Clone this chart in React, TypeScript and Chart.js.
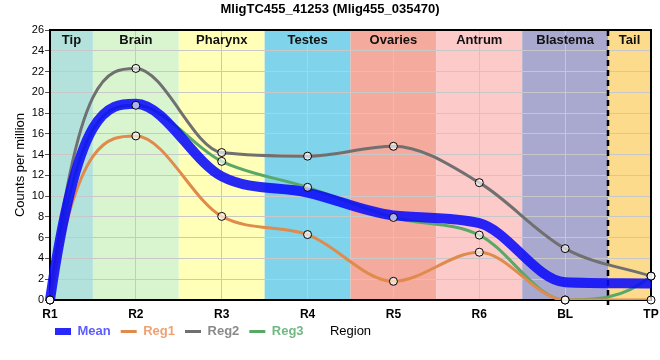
import React, { useEffect, useRef } from 'react';
import { Chart, registerables } from 'chart.js';

Chart.register(...registerables);

const categories = ['R1', 'R2', 'R3', 'R4', 'R5', 'R6', 'BL', 'TP'];
const meanValues = [0, 18.9, 11.9, 10.35, 8.15, 7.4, 1.72, 1.6];
const reg1Values = [0, 15.8, 8.05, 6.3, 1.8, 4.6, 0, 0];
const reg2Values = [0, 22.3, 14.2, 13.85, 14.8, 11.3, 4.95, 2.3];
const reg3Values = [0, 18.75, 13.35, 10.85, 7.95, 6.25, 0, 2.3];

const regionNames = ['Tip', 'Brain', 'Pharynx', 'Testes', 'Ovaries', 'Antrum', 'Blastema', 'Tail'];
const regionColors = ['#b3e2dd', '#d8f5d0', '#ffffb8', '#7fd3ea', '#f4aa9c', '#fdcaca', '#a9a8ce', '#fddb8c'];

const titleText = 'MligTC455_41253 (Mlig455_035470)';
const yTitle = 'Counts per million';
const xTitle = 'Region';
const yMax = 26;
const yStep = 2;

const MEAN_COLOR = 'rgba(10,10,250,0.88)';
const REG1_COLOR = '#e08a4c';
const REG2_COLOR = '#707070';
const REG3_COLOR = '#5aa868';

const FONT = "'Liberation Sans', Arial, sans-serif";

function clamp(v: number, lo: number, hi: number) {
  return Math.max(lo, Math.min(hi, v));
}

// Steeper end tangents next to a flat (extremum) neighbour, as in the reference curves.
const endSlopePlugin = {
  id: 'endSlope',
  beforeDatasetsDraw(chart: any) {
    chart.data.datasets.forEach((ds: any, i: number) => {
      if (ds.showLine === false) return;
      const meta = chart.getDatasetMeta(i);
      const line = meta.dataset;
      if (!line || meta.hidden) return;
      line.updateControlPoints(chart.chartArea, 'x');
      const pts = meta.data;
      const n = pts.length;
      if (n < 3) return;
      {
        const p0 = pts[0];
        const p1 = pts[1];
        const dx = p1.x - p0.x;
        const s = (p1.y - p0.y) / dx;
        if (Math.abs(s) > 1e-9) {
          const m1 = (p1.y - p1.cp1y) / (p1.x - p1.cp1x || 1);
          const k = clamp(3 - (2 * m1) / s, 1, 3);
          p0.cp2x = p0.x + dx / 3;
          p0.cp2y = p0.y + (k * s * dx) / 3;
        }
      }
      {
        const pn = pts[n - 1];
        const pm = pts[n - 2];
        const dx = pn.x - pm.x;
        const s = (pn.y - pm.y) / dx;
        if (Math.abs(s) > 1e-9) {
          const m = (pm.cp2y - pm.y) / (pm.cp2x - pm.x || 1);
          const k = clamp(3 - (2 * m) / s, 1, 3);
          pn.cp1x = pn.x - dx / 3;
          pn.cp1y = pn.y - (k * s * dx) / 3;
        }
      }
    });
  },
};

const bandsPlugin = {
  id: 'bands',
  beforeDraw(chart: any) {
    const { ctx, chartArea } = chart;
    const x = chart.scales.x;
    ctx.save();
    for (let i = 0; i < regionNames.length; i++) {
      const l = Math.max(chartArea.left, x.getPixelForValue(i - 0.5));
      const r = Math.min(chartArea.right, x.getPixelForValue(i + 0.5));
      ctx.fillStyle = regionColors[i];
      ctx.fillRect(l, chartArea.top, r - l, chartArea.bottom - chartArea.top);
    }
    ctx.restore();
  },
  beforeDatasetsDraw(chart: any) {
    const { ctx, chartArea } = chart;
    const x = chart.scales.x;
    ctx.save();
    ctx.font = `bold 13px ${FONT}`;
    ctx.fillStyle = '#111';
    ctx.textAlign = 'center';
    ctx.textBaseline = 'middle';
    for (let i = 0; i < regionNames.length; i++) {
      const l = Math.max(chartArea.left, x.getPixelForValue(i - 0.5));
      const r = Math.min(chartArea.right, x.getPixelForValue(i + 0.5));
      ctx.fillText(regionNames[i], (l + r) / 2, chartArea.top + 10);
    }
    ctx.strokeStyle = '#000';
    ctx.lineWidth = 2;
    ctx.strokeRect(chartArea.left, chartArea.top, chartArea.right - chartArea.left, chartArea.bottom - chartArea.top);
    const dx = Math.round(x.getPixelForValue(categories.length - 1.5));
    ctx.setLineDash([6, 4]);
    ctx.lineWidth = 2.5;
    ctx.beginPath();
    ctx.moveTo(dx, chartArea.top);
    ctx.lineTo(dx, chartArea.bottom + 5);
    ctx.stroke();
    ctx.restore();
  },
  afterLayout(chart: any) {
    if (chart.legend) {
      chart.legend.left -= 5;
      chart.legend.top -= 6;
    }
  },
  afterDraw(chart: any) {
    const { ctx, chartArea } = chart;
    const lg = chart.legend;
    ctx.save();
    ctx.font = `13px ${FONT}`;
    ctx.fillStyle = '#000';
    ctx.textAlign = 'center';
    ctx.textBaseline = 'middle';
    ctx.fillText(xTitle, (chartArea.left + chartArea.right) / 2, lg.top + 16.5);
    ctx.restore();
  },
};

function pointsDataset(label: string, data: number[]) {
  return {
    label,
    data,
    showLine: false,
    pointRadius: 4,
    pointBackgroundColor: 'rgba(255,255,255,0.65)',
    pointBorderColor: '#000',
    pointBorderWidth: 1,
    order: 0,
    clip: false,
  };
}

function lineDataset(label: string, data: number[], color: string, width: number, order: number) {
  return {
    label,
    data,
    borderColor: color,
    backgroundColor: color,
    borderWidth: width,
    pointRadius: 0,
    cubicInterpolationMode: 'monotone',
    fill: false,
    order,
  };
}

export default function App() {
  const ref = useRef<HTMLCanvasElement>(null);
  useEffect(() => {
    Chart.defaults.font.family = FONT;
    const chart = new Chart(ref.current as HTMLCanvasElement, {
      type: 'line',
      data: {
        labels: categories,
        datasets: [
          lineDataset('Mean', meanValues, MEAN_COLOR, 10, 1),
          lineDataset('Reg1', reg1Values, REG1_COLOR, 3, 2),
          lineDataset('Reg2', reg2Values, REG2_COLOR, 3, 2),
          lineDataset('Reg3', reg3Values, REG3_COLOR, 3, 2),
          pointsDataset('p1', reg1Values),
          pointsDataset('p2', reg2Values),
          pointsDataset('p3', reg3Values),
        ] as any,
      },
      options: {
        animation: false,
        responsive: true,
        maintainAspectRatio: false,
        layout: { padding: { left: 0, right: 0, top: 0, bottom: 6 } },
        plugins: {
          tooltip: { enabled: false },
          title: {
            display: true,
            text: titleText,
            color: '#000',
            font: { size: 13, weight: 'bold', family: FONT },
            padding: { top: 1.2, bottom: 13.2 },
          },
          legend: {
            display: true,
            position: 'bottom',
            align: 'start',
            fullSize: false,
            labels: {
              usePointStyle: true,
              pointStyleWidth: 16,
              padding: 10,
              font: { size: 13, weight: 'bold', family: FONT },
              generateLabels: () => [
                { text: 'Mean', strokeStyle: MEAN_COLOR, fillStyle: MEAN_COLOR, lineWidth: 7, pointStyle: 'line', fontColor: '#5c5cff', hidden: false, datasetIndex: 0 },
                { text: 'Reg1', strokeStyle: REG1_COLOR, fillStyle: REG1_COLOR, lineWidth: 3, pointStyle: 'line', fontColor: '#eda274', hidden: false, datasetIndex: 1 },
                { text: 'Reg2', strokeStyle: REG2_COLOR, fillStyle: REG2_COLOR, lineWidth: 3, pointStyle: 'line', fontColor: '#8a8a8a', hidden: false, datasetIndex: 2 },
                { text: 'Reg3', strokeStyle: REG3_COLOR, fillStyle: REG3_COLOR, lineWidth: 3, pointStyle: 'line', fontColor: '#72b883', hidden: false, datasetIndex: 3 },
              ] as any,
            },
            onClick: () => {},
          },
        },
        scales: {
          x: {
            type: 'category',
            offset: false,
            grid: { color: '#c8c8c8', lineWidth: 1, drawTicks: false },
            border: { display: false },
            ticks: { color: '#000', font: { size: 12, weight: 'bold', family: FONT }, padding: 7, maxRotation: 0, autoSkip: false },
            afterFit: (s: any) => { s.height = 21; s.paddingRight = 9; s.paddingLeft = 8; },
          },
          y: {
            min: 0,
            max: yMax,
            grid: { color: '#c8c8c8', lineWidth: 1, tickLength: 5, tickColor: '#555' },
            border: { display: false },
            ticks: { stepSize: yStep, color: '#000', font: { size: 11, family: FONT }, padding: 1 },
            title: { display: true, text: yTitle, color: '#000', font: { size: 13, family: FONT }, padding: { top: 13, bottom: 0 } },
            afterFit: (s: any) => { s.width = 50; },
          },
        },
      } as any,
      plugins: [bandsPlugin, endSlopePlugin],
    });
    return () => chart.destroy();
  }, []);
  return (
    <div style={{ position: 'absolute', left: 0, top: 0, width: 660, height: 360 }}>
      <canvas ref={ref} />
    </div>
  );
}
